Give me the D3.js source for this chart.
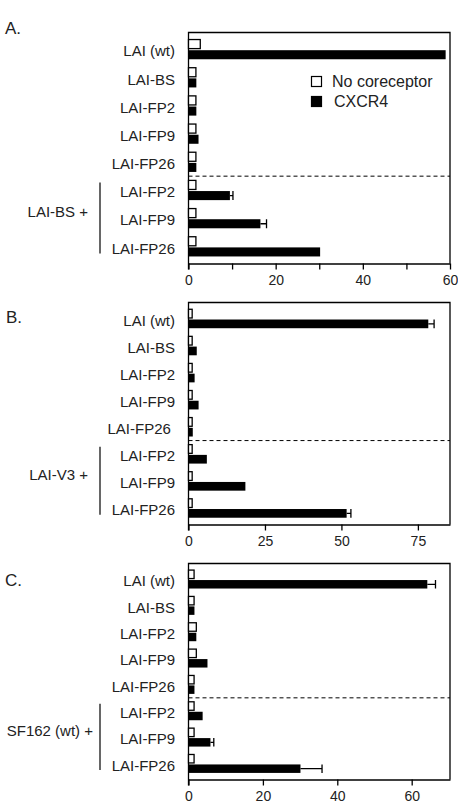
<!DOCTYPE html>
<html>
<head>
<meta charset="utf-8">
<script src="https://cdn.jsdelivr.net/npm/d3@7"></script>
<style>
  body { margin: 0; background: #fff; }
  svg { font-family: "Liberation Sans", Arial, Helvetica, sans-serif; }
</style>
</head>
<body>
<div class="chart"></div>
<script>
// Data

const rowLabels = ["LAI (wt)", "LAI-BS", "LAI-FP2", "LAI-FP9", "LAI-FP26", "LAI-FP2", "LAI-FP9", "LAI-FP26"];
const rowLabelsB = ["LAI (wt)", "LAI-BS", "LAI-FP2", "LAI-FP9", "LAI-FP26\u00a0", "LAI-FP2", "LAI-FP9", "LAI-FP26"];
const seriesNames = ["No coreceptor", "CXCR4"];

const noCoreceptorA = [2.7, 1.7, 1.7, 1.7, 1.7, 1.7, 1.7, 1.7];
const cxcr4A = [59, 1.8, 1.8, 2.3, 1.8, 9.5, 16.5, 30.2];
const errA = [0, 0, 0, 0, 0, 0.7, 1.4, 0];
const ticksA = [0, 10, 20, 30, 40, 50, 60];
const tickLabelsA = [0, 20, 40, 60];

const noCoreceptorB = [1.2, 1.2, 1.2, 1.2, 1.2, 1.2, 1.2, 1.2];
const cxcr4B = [78.4, 2.7, 2, 3.3, 1.4, 6, 18.6, 51.7];
const errB = [1.9, 0, 0, 0, 0, 0, 0, 1.4];
const ticksB = [0, 25, 50, 75];
const tickLabelsB = [0, 25, 50, 75];

const noCoreceptorC = [1.5, 1.5, 2.1, 2.1, 1.5, 1.5, 1.5, 1.5];
const cxcr4C = [64.2, 1.6, 2.1, 5.1, 1.6, 3.8, 5.9, 30.1];
const errC = [2.2, 0, 0, 0, 0, 0, 0.9, 5.8];
const ticksC = [0, 20, 40, 60];
const tickLabelsC = [0, 20, 40, 60];

// Panel settings

const panels = [
  { letter: "A.", letterX: 5, letterY: 34, group: "LAI-BS +", groupX: 88, labels: rowLabels,
    noCo: noCoreceptorA, cxcr4: cxcr4A, err: errA, max: 60, ticks: ticksA, tickLabels: tickLabelsA,
    top: 32.5, bottom: 263.5, legend: true },
  { letter: "B.", letterX: 6, letterY: 323, group: "LAI-V3 +", groupX: 88, labels: rowLabelsB,
    noCo: noCoreceptorB, cxcr4: cxcr4B, err: errB, max: 85.5, ticks: ticksB, tickLabels: tickLabelsB,
    top: 302.5, bottom: 524.5, legend: false },
  { letter: "C.", letterX: 5, letterY: 586, group: "SF162 (wt) +", groupX: 93, labels: rowLabels,
    noCo: noCoreceptorC, cxcr4: cxcr4C, err: errC, max: 70.3, ticks: ticksC, tickLabels: tickLabelsC,
    top: 563.5, bottom: 779.5, legend: false }
];

const width = 458;
const height = 805;
const left = 188.5;
const right = 450;
const labelX = 175;
const bracketX = 100;

const svg = d3
  .select(".chart")
  .append("svg")
  .attr("width", width)
  .attr("height", height);

panels.forEach((p) => {
  const g = svg.append("g");

  const x = d3.scaleLinear().domain([0, p.max]).range([left, right]);
  const y = d3
    .scaleBand()
    .domain(d3.range(p.labels.length))
    .range([p.top, p.bottom])
    .paddingInner(0.3)
    .paddingOuter(0.25);
  const ys = d3
    .scaleBand()
    .domain(seriesNames)
    .range([0, y.bandwidth()])
    .paddingInner(0.15);

  // Frame (top, right, left)

  g.append("path")
    .attr("d", `M${left},${p.bottom + 6}V${p.top}H${right}V${p.bottom}`)
    .attr("fill", "none")
    .attr("stroke", "#000")
    .attr("stroke-width", 1.3);

  // Axis

  const axis = g
    .append("g")
    .attr("transform", `translate(0, ${p.bottom})`)
    .call(
      d3
        .axisBottom(x)
        .tickValues(p.ticks)
        .tickSize(6)
        .tickSizeOuter(0)
        .tickPadding(6)
        .tickFormat((d) => (p.tickLabels.includes(d) ? d : ""))
    );
  axis.select(".domain").attr("stroke-width", 1.3);
  axis.selectAll(".tick line").attr("stroke-width", 1.3);
  axis.selectAll(".tick text").attr("font-size", 14).attr("font-family", null).attr("fill", "#222");

  // Dashed separator

  const sepY = (y(4) + y.bandwidth() + y(5)) / 2;
  g.append("line")
    .attr("x1", left)
    .attr("x2", right)
    .attr("y1", sepY)
    .attr("y2", sepY)
    .attr("stroke", "#000")
    .attr("stroke-width", 1)
    .attr("stroke-dasharray", "4,3");

  // Bars

  const rows = p.labels.map((label, i) => ({
    i,
    label,
    noCo: p.noCo[i],
    cxcr4: p.cxcr4[i],
    err: p.err[i]
  }));

  g.selectAll(".white")
    .data(rows)
    .enter()
    .append("rect")
    .attr("x", x(0))
    .attr("y", (d) => y(d.i) + ys(seriesNames[0]))
    .attr("width", (d) => x(d.noCo) - x(0))
    .attr("height", ys.bandwidth())
    .attr("fill", "#fff")
    .attr("stroke", "#000")
    .attr("stroke-width", 1.3);

  g.selectAll(".black")
    .data(rows)
    .enter()
    .append("rect")
    .attr("x", x(0))
    .attr("y", (d) => y(d.i) + ys(seriesNames[1]))
    .attr("width", (d) => x(d.cxcr4) - x(0))
    .attr("height", ys.bandwidth())
    .attr("fill", "#000");

  // Error bars

  const errRows = rows.filter((d) => d.err > 0);
  const cy = (d) => y(d.i) + ys(seriesNames[1]) + ys.bandwidth() / 2;

  g.selectAll(".err")
    .data(errRows)
    .enter()
    .append("path")
    .attr("d", (d) => {
      const x1 = x(d.cxcr4);
      const x2 = x(d.cxcr4 + d.err);
      const h = ys.bandwidth() / 2;
      return `M${x1},${cy(d)}H${x2}M${x2},${cy(d) - h}V${cy(d) + h}`;
    })
    .attr("fill", "none")
    .attr("stroke", "#000")
    .attr("stroke-width", 1.3);

  // Row labels

  g.selectAll(".label")
    .data(rows)
    .enter()
    .append("text")
    .attr("x", labelX)
    .attr("y", (d) => y(d.i) + y.bandwidth() / 2 + 7)
    .attr("text-anchor", "end")
    .attr("font-size", 15)
    .attr("fill", "#222")
    .text((d) => d.label);

  // Group bracket and label

  g.append("line")
    .attr("x1", bracketX)
    .attr("x2", bracketX)
    .attr("y1", y(5) + 2)
    .attr("y2", y(7) + y.bandwidth() - 3)
    .attr("stroke", "#000")
    .attr("stroke-width", 1.2);

  g.append("text")
    .attr("x", p.groupX)
    .attr("y", y(6) + y.bandwidth() / 2 - 1)
    .attr("text-anchor", "end")
    .attr("font-size", 15)
    .attr("fill", "#222")
    .text(p.group);

  // Panel letter

  g.append("text")
    .attr("x", p.letterX)
    .attr("y", p.letterY)
    .attr("font-size", 17)
    .attr("fill", "#222")
    .text(p.letter);

  // Legend

  if (p.legend) {
    const legend = g.append("g");
    const legendData = [
      { name: seriesNames[0], fill: "#fff" },
      { name: seriesNames[1], fill: "#000" }
    ];
    legend
      .selectAll("rect")
      .data(legendData)
      .enter()
      .append("rect")
      .attr("x", 311.5)
      .attr("y", (d, i) => 76.5 + i * 20)
      .attr("width", 10)
      .attr("height", 10)
      .attr("fill", (d) => d.fill)
      .attr("stroke", "#000")
      .attr("stroke-width", 1.2);
    legend
      .selectAll("text")
      .data(legendData)
      .enter()
      .append("text")
      .attr("x", (d, i) => 332 + i * 2)
      .attr("y", (d, i) => 87 + i * 20)
      .attr("font-size", 16)
      .attr("fill", "#222")
      .text((d) => d.name);
  }
});
</script>
</body>
</html>
